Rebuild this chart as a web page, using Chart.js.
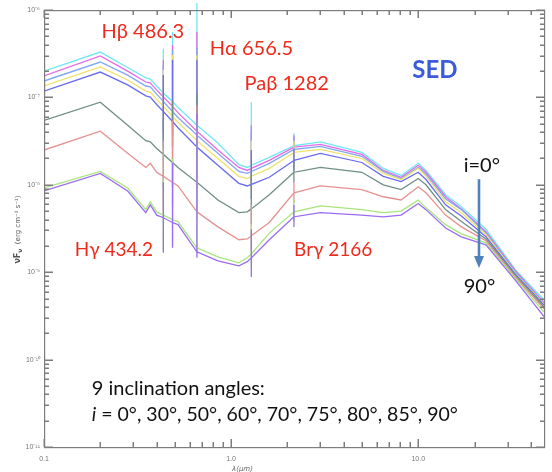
<!DOCTYPE html>
<html><head><meta charset="utf-8">
<script src="https://cdn.jsdelivr.net/npm/chart.js@4.4.0/dist/chart.umd.min.js"></script>
<style>html,body{margin:0;padding:0;background:#fff}#wrap{width:552px;height:472px}</style>
</head><body><div id="wrap"><canvas id="c" width="552" height="472"></canvas></div>
<script>
// ---- data (wavelength in micron, nuFnu in erg cm^-2 s^-1) ----
const wavelengths = [0.1, 0.2, 0.28, 0.35, 0.37, 0.4, 0.4342, 0.4863, 0.52, 0.6565, 0.85, 1.1, 1.22, 1.282, 1.6, 2.166, 3.0, 5.0, 6.5, 8.1, 10, 11, 14, 17, 23, 33, 47];
const inclinations = [0, 30, 50, 60, 70, 75, 80, 85, 90];
const sed_i0  = [2.0e-7, 3.3e-7, 2.2e-7, 1.67e-7, 1.62e-7, 1.35e-7, 1.12e-7, 9.0e-8, 7.7e-8, 4.8e-8, 3.0e-8, 1.7e-8, 1.58e-8, 1.67e-8, 2.06e-8, 2.8e-8, 3.1e-8, 2.35e-8, 1.54e-8, 1.28e-8, 1.76e-8, 1.46e-8, 7.7e-9, 5.6e-9, 3.1e-9, 1.07e-9, 4.8e-10];
const sed_i30 = [1.76e-7, 2.98e-7, 2.0e-7, 1.5e-7, 1.46e-7, 1.22e-7, 1.01e-7, 7.9e-8, 6.7e-8, 4.1e-8, 2.5e-8, 1.58e-8, 1.46e-8, 1.54e-8, 1.9e-8, 2.7e-8, 2.9e-8, 2.23e-8, 1.46e-8, 1.22e-8, 1.67e-8, 1.39e-8, 7.3e-9, 5.3e-9, 2.9e-9, 1.04e-9, 4.5e-10];
const sed_i50 = [1.54e-7, 2.54e-7, 1.8e-7, 1.35e-7, 1.32e-7, 1.09e-7, 9.0e-8, 6.9e-8, 5.9e-8, 3.7e-8, 2.29e-8, 1.42e-8, 1.35e-8, 1.42e-8, 1.76e-8, 2.54e-8, 2.75e-8, 2.12e-8, 1.42e-8, 1.18e-8, 1.58e-8, 1.32e-8, 6.9e-9, 5.2e-9, 2.8e-9, 1.01e-9, 4.4e-10];
const sed_i60 = [1.35e-7, 2.23e-7, 1.58e-7, 1.18e-7, 1.15e-7, 9.5e-8, 7.9e-8, 6.06e-8, 5.2e-8, 3.2e-8, 2.0e-8, 1.25e-8, 1.18e-8, 1.25e-8, 1.54e-8, 2.35e-8, 2.54e-8, 2.0e-8, 1.35e-8, 1.15e-8, 1.54e-8, 1.25e-8, 6.4e-9, 4.8e-9, 2.7e-9, 9.7e-10, 4.3e-10];
const sed_i70 = [1.18e-7, 1.95e-7, 1.39e-7, 1.04e-7, 1.01e-7, 8.3e-8, 6.9e-8, 5.3e-8, 4.5e-8, 2.7e-8, 1.67e-8, 1.04e-8, 9.7e-9, 1.01e-8, 1.22e-8, 1.9e-8, 2.29e-8, 1.8e-8, 1.25e-8, 1.09e-8, 1.39e-8, 1.15e-8, 5.9e-9, 4.4e-9, 2.54e-9, 9.5e-10, 4.2e-10];
const sed_i75 = [5.45e-8, 8.8e-8, 4.8e-8, 3.2e-8, 3.1e-8, 2.6e-8, 2.23e-8, 1.8e-8, 1.58e-8, 1.07e-8, 6.7e-9, 4.8e-9, 4.9e-9, 5.3e-9, 7.7e-9, 1.39e-8, 1.58e-8, 1.39e-8, 1.0e-8, 8.8e-9, 1.18e-8, 1.0e-8, 5.2e-9, 3.8e-9, 2.4e-9, 9.2e-10, 4.0e-10];
const sed_i80 = [2.5e-8, 4.1e-8, 2.29e-8, 1.58e-8, 1.76e-8, 1.39e-8, 1.25e-8, 1.07e-8, 9.7e-9, 4.9e-9, 3.3e-9, 2.35e-9, 2.4e-9, 2.61e-9, 3.7e-9, 8.1e-9, 9.7e-9, 8.8e-9, 7.3e-9, 6.7e-9, 9.5e-9, 8.1e-9, 4.5e-9, 3.3e-9, 2.29e-9, 8.8e-10, 3.8e-10];
const sed_i85 = [9.2e-9, 1.42e-8, 9.2e-9, 5.2e-9, 6.4e-9, 4.9e-9, 4.5e-9, 3.98e-9, 3.8e-9, 1.9e-9, 1.5e-9, 1.28e-9, 1.46e-9, 1.62e-9, 2.8e-9, 4.9e-9, 5.75e-9, 5.2e-9, 4.8e-9, 5.0e-9, 6.7e-9, 5.45e-9, 3.5e-9, 2.75e-9, 2.17e-9, 8.5e-10, 3.5e-10];
const sed_i90 = [8.5e-9, 1.35e-8, 8.5e-9, 4.8e-9, 5.9e-9, 4.5e-9, 4.2e-9, 3.7e-9, 3.5e-9, 1.71e-9, 1.35e-9, 1.18e-9, 1.32e-9, 1.46e-9, 2.35e-9, 4.3e-9, 4.8e-9, 4.5e-9, 4.3e-9, 4.5e-9, 6.1e-9, 5.2e-9, 3.2e-9, 2.54e-9, 2.06e-9, 8.1e-10, 3.1e-10];

// emission lines: spike tops and bottoms for each inclination (i=0..90)
const lineWavelengths = [0.4342, 0.4863, 0.6565, 1.282, 2.166];
const peak_Hg   = [3.6e-7, 2.7e-7, 2.35e-7, 2.06e-7, 1.8e-7, 5.75e-8, 3.2e-8, 1.18e-8, 1.07e-8];
const trough_Hg = [4.4e-8, 4.0e-8, 3.6e-8, 3.1e-8, 2.75e-8, 9.0e-9, 5.0e-9, 1.8e-9, 1.67e-9];
const peak_Hb   = [5.6e-7, 3.98e-7, 3.5e-7, 3.06e-7, 2.7e-7, 9.2e-8, 5.45e-8, 2.0e-8, 1.8e-8];
const trough_Hb = [4.5e-8, 4.1e-8, 3.6e-8, 3.1e-8, 2.75e-8, 9.5e-9, 5.6e-9, 2.06e-9, 1.9e-9];
const peak_Ha   = [1.2e-6, 5.6e-7, 3.7e-7, 3.06e-7, 2.7e-7, 1.12e-7, 8.1e-8, 5.45e-8, 6.6e-8];
const trough_Ha = [4.1e-8, 3.5e-8, 3.1e-8, 2.75e-8, 2.29e-8, 9.2e-9, 4.2e-9, 1.62e-9, 1.46e-9];
const peak_Pab  = [8.8e-8, 4.8e-8, 4.2e-8, 3.2e-8, 2.5e-8, 1.28e-8, 5.9e-9, 3.5e-9, 3.1e-9];
const trough_Pab= [1.12e-8, 1.04e-8, 9.7e-9, 8.5e-9, 6.9e-9, 3.6e-9, 1.76e-9, 1.12e-9, 8.8e-10];
const peak_Brg  = [3.9e-8, 3.7e-8, 3.5e-8, 3.2e-8, 2.6e-8, 1.9e-8, 1.09e-8, 6.7e-9, 5.9e-9];
const trough_Brg= [2.17e-8, 2.06e-8, 1.95e-8, 1.8e-8, 1.46e-8, 1.07e-8, 6.2e-9, 3.8e-9, 3.3e-9];

// axis ticks
const xMajorTicks = [0.1, 1, 10];
const xTickLabels = ['0.1', '1.0', '10.0'];
const yMajorTicks = [1e-6, 1e-7, 1e-8, 1e-9, 1e-10, 1e-11];
const yTickLabels = ['10\u207B\u2076', '10\u207B\u2077', '10\u207B\u2078', '10\u207B\u2079', '10\u207B\u00B9\u2070', '10\u207B\u00B9\u00B9'];

// ---- styles ----
const seriesColors = ['#6fe8f2', '#e46ae6', '#80a7f2', '#efe26a', '#6a6cef', '#6f8f84', '#e69090', '#a6e67a', '#9b6cf0'];
const RED = '#ee2a1c';
const FONT = 'Lato, "Open Sans", sans-serif';

const seriesValues = [sed_i0, sed_i30, sed_i50, sed_i60, sed_i70, sed_i75, sed_i80, sed_i85, sed_i90];
const linePeaks = [peak_Hg, peak_Hb, peak_Ha, peak_Pab, peak_Brg];
const lineTroughs = [trough_Hg, trough_Hb, trough_Ha, trough_Pab, trough_Brg];

function buildPoints(s) {
  const pts = [];
  wavelengths.forEach((w, i) => {
    const v = seriesValues[s][i];
    pts.push({x: w, y: v});
    const li = lineWavelengths.indexOf(w);
    if (li >= 0) {
      pts.push({x: w, y: linePeaks[li][s]});
      pts.push({x: w, y: lineTroughs[li][s]});
      pts.push({x: w, y: v});
    }
  });
  return pts;
}

const datasets = [];
for (let s = inclinations.length - 1; s >= 0; s--) {
  datasets.push({
    label: 'i=' + inclinations[s] + '\u00B0',
    data: buildPoints(s),
    borderColor: seriesColors[s],
    borderWidth: 1.3,
    pointRadius: 0,
    tension: 0,
    fill: false,
    clip: {left: 0, top: 12, right: 0, bottom: 0}
  });
}

const annotations = [
  {text: 'H\u03B2 486.3', x: 0.203, y: 4.8e-7, color: RED, size: 20},
  {text: 'H\u03B1 656.5', x: 0.769, y: 3.06e-7, color: RED, size: 20},
  {text: 'Pa\u03B2 1282', x: 1.18, y: 1.22e-7, color: RED, size: 20},
  {text: 'H\u03B3 434.2', x: 0.146, y: 1.53e-9, color: RED, size: 19},
  {text: 'Br\u03B3 2166', x: 2.17, y: 1.53e-9, color: RED, size: 19},
  {text: 'SED', x: 9.29, y: 1.67e-7, color: '#3b5bd8', size: 24, bold: true},
  {text: 'i=0\u00B0', x: 17.5, y: 1.4e-8, color: '#111', size: 20},
  {text: '90\u00B0', x: 17.5, y: 5.8e-10, color: '#111', size: 20},
  {text: '9 inclination angles:', x: 0.18, y: 3.94e-11, color: '#111', size: 20}
];
const angleLine = {italic: 'i', rest: ' = 0\u00B0, 30\u00B0, 50\u00B0, 60\u00B0, 70\u00B0, 75\u00B0, 80\u00B0, 85\u00B0, 90\u00B0', x: 0.18, y: 1.98e-11, size: 19.5};
const arrow = {x: 21, yFrom: 1.16e-8, yTo: 1.12e-9, color: '#4f81bd'};

function isDecade(v, list) {
  return list.findIndex(t => Math.abs(Math.log10(t) - Math.log10(v)) < 1e-6);
}

const framePlugin = {
  id: 'frame',
  afterDraw(chart) {
    const ctx = chart.ctx, a = chart.chartArea, xs = chart.scales.x, ys = chart.scales.y;
    ctx.save();
    ctx.fillStyle = '#7c7c7c';
    const L = Math.round(a.left), R = Math.round(a.right), T = Math.round(a.top), B = Math.round(a.bottom);
    ctx.fillRect(L, T, R - L + 1, 1.2);
    ctx.fillRect(L, B, R - L + 1, 1.2);
    ctx.fillRect(L, T, 1.2, B - T + 1);
    ctx.fillRect(R, T, 1.2, B - T + 1);
    for (let d = -1; d <= 1; d++) {
      for (let m = 1; m <= 9; m++) {
        const v = m * Math.pow(10, d);
        if (v < 0.0999 || v > 47) continue;
        const len = m === 1 ? 8 : 5;
        const tx = Math.round(xs.getPixelForValue(v));
        ctx.fillRect(tx - 0.5, B - len, 1.5, len);
        ctx.fillRect(tx - 0.5, T, 1.5, len);
      }
    }
    for (let d = -11; d <= -6; d++) {
      for (let m = 1; m <= 9; m++) {
        const v = m * Math.pow(10, d);
        if (v < 0.999e-11 || v > 1.001e-6) continue;
        const len = m === 1 ? 9 : 5;
        const ty = Math.round(ys.getPixelForValue(v));
        ctx.fillRect(L, ty - 0.5, len, 1.5);
        ctx.fillRect(R - len + 1, ty - 0.5, len, 1.5);
      }
    }

    ctx.textBaseline = 'alphabetic';
    ctx.textAlign = 'left';
    annotations.forEach(t => {
      ctx.font = (t.bold ? 'bold ' : '') + t.size + 'px ' + FONT;
      ctx.fillStyle = t.color;
      ctx.fillText(t.text, xs.getPixelForValue(t.x), ys.getPixelForValue(t.y));
    });
    const ax = xs.getPixelForValue(angleLine.x), ay = ys.getPixelForValue(angleLine.y);
    ctx.fillStyle = '#111';
    ctx.font = 'italic ' + angleLine.size + 'px ' + FONT;
    ctx.fillText(angleLine.italic, ax, ay);
    const iw = ctx.measureText(angleLine.italic).width;
    ctx.font = angleLine.size + 'px ' + FONT;
    ctx.fillText(angleLine.rest, ax + iw, ay);
    // arrow
    const arx = Math.round(xs.getPixelForValue(arrow.x));
    const y0 = ys.getPixelForValue(arrow.yFrom), y1 = ys.getPixelForValue(arrow.yTo);
    ctx.strokeStyle = arrow.color; ctx.fillStyle = arrow.color;
    ctx.lineWidth = 2.6;
    ctx.beginPath(); ctx.moveTo(arx, y0); ctx.lineTo(arx, y1 - 9); ctx.stroke();
    ctx.beginPath(); ctx.moveTo(arx - 5, y1 - 12); ctx.lineTo(arx + 5, y1 - 12); ctx.lineTo(arx, y1); ctx.closePath(); ctx.fill();
    // x axis title
    ctx.fillStyle = '#666';
    ctx.font = 'italic 7px "DejaVu Sans", sans-serif';
    ctx.textAlign = 'center';
    ctx.fillText('\u03BB(\u03BCm)', xs.getPixelForValue(1.15), a.bottom + 24);
    // y axis title (rotated)
    ctx.translate(17, (a.top + a.bottom) / 2 + 1);
    ctx.rotate(-Math.PI / 2);
    ctx.textAlign = 'left';
    ctx.fillStyle = '#555';
    const parts = [
      {t: '\u03BDF', f: 'bold 8px "DejaVu Sans", sans-serif', dy: 0},
      {t: '\u03BD', f: 'bold 6px "DejaVu Sans", sans-serif', dy: 2},
      {t: '  (erg cm\u207B\u00B2 s\u207B\u00B9)', f: '7px "DejaVu Sans", sans-serif', dy: 0}
    ];
    let total = 0;
    parts.forEach(p => { ctx.font = p.f; total += ctx.measureText(p.t).width; });
    let cx = -total / 2;
    parts.forEach(p => { ctx.font = p.f; ctx.fillText(p.t, cx, 3 + p.dy); cx += ctx.measureText(p.t).width; });
    ctx.restore();
  }
};

new Chart(document.getElementById('c'), {
  type: 'line',
  data: {datasets},
  options: {
    responsive: false,
    animation: false,
    events: [],
    layout: {padding: {top: 10, right: 3, left: 0, bottom: 0}},
    plugins: {legend: {display: false}, tooltip: {enabled: false}},
    scales: {
      x: {
        type: 'logarithmic', min: 0.1, max: 47, position: 'bottom',
        grid: {display: false, drawTicks: false}, border: {display: false},
        ticks: {autoSkip: false, maxRotation: 0, padding: 8, color: '#777',
          font: {size: 7, family: '"Liberation Sans", sans-serif'},
          callback: (v) => { const i = isDecade(v, xMajorTicks); return i >= 0 ? xTickLabels[i] : ''; }},
        afterFit: (s) => { s.height = 25; }
      },
      y: {
        type: 'logarithmic', min: 1e-11, max: 1e-6, position: 'left',
        grid: {display: false, drawTicks: false}, border: {display: false},
        ticks: {autoSkip: false, padding: 4, color: '#777',
          font: {size: 7, family: '"Liberation Sans", sans-serif'},
          callback: (v) => { const i = isDecade(v, yMajorTicks); return i >= 0 ? yTickLabels[i] : ''; }},
        afterFit: (s) => { s.width = 44; }
      }
    }
  },
  plugins: [framePlugin]
});
</script>
</body></html>
